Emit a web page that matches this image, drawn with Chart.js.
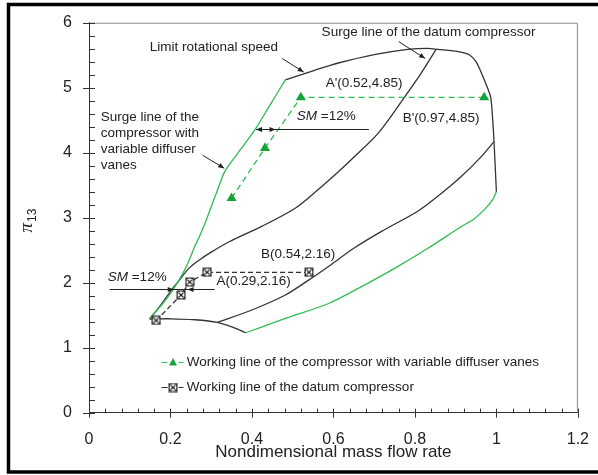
<!DOCTYPE html>
<html>
<head>
<meta charset="utf-8">
<script src="https://cdn.jsdelivr.net/npm/chart.js@4.4.1/dist/chart.umd.min.js"></script>
<style>
  html, body { margin: 0; padding: 0; background: #fff; }
  #wrap { position: relative; width: 598px; height: 475px; }
</style>
</head>
<body>
<div id="wrap"><canvas id="map"></canvas></div>
<script>
// ---- DATA: x = nondimensional mass flow rate, y = pressure ratio pi13 ----
const xTicks = [0, 0.2, 0.4, 0.6, 0.8, 1, 1.2];
const yTicks = [0, 1, 2, 3, 4, 5, 6];

// surge line with variable diffuser vanes (green, left boundary)
const surgeVdvX = [0.149, 0.18, 0.206, 0.23, 0.246, 0.259, 0.271, 0.287, 0.303, 0.318, 0.334, 0.372, 0.409, 0.445, 0.482];
const surgeVdvY = [1.45, 1.67, 1.89, 2.14, 2.35, 2.55, 2.71, 2.95, 3.22, 3.47, 3.72, 4.05, 4.37, 4.74, 5.12];

// limit rotational speed line and right boundary (black)
const limitX = [0.482, 0.55, 0.612, 0.70, 0.783, 0.83, 0.856, 0.91, 0.935, 0.95, 0.965, 0.978, 0.986, 0.991, 0.994, 0.997, 1.0];
const limitY = [5.12, 5.26, 5.38, 5.51, 5.59, 5.605, 5.59, 5.55, 5.50, 5.40, 5.20, 5.00, 4.85, 4.50, 4.19, 3.80, 3.40];

// lowest speed line (green)
const lowSpeedX = [0.385, 0.482, 0.588, 0.669, 0.75, 0.832, 0.913, 0.945, 0.97, 0.99, 1.0];
const lowSpeedY = [1.23, 1.45, 1.68, 1.94, 2.22, 2.53, 2.86, 2.98, 3.12, 3.27, 3.40];

// intermediate speed line (black)
const midSpeedX = [0.315, 0.40, 0.482, 0.539, 0.588, 0.65, 0.718, 0.807, 0.86, 0.913, 0.96, 0.994];
const midSpeedY = [1.39, 1.58, 1.81, 2.04, 2.25, 2.53, 2.79, 3.10, 3.35, 3.63, 3.92, 4.17];

// bottom line from surge point to low speed line (black)
const bottomX = [0.149, 0.20, 0.26, 0.315, 0.355, 0.385];
const bottomY = [1.44, 1.445, 1.43, 1.39, 1.31, 1.23];

// surge line of the datum compressor (black)
const surgeDatumX = [0.149, 0.18, 0.205, 0.222, 0.245, 0.271, 0.30, 0.344, 0.425, 0.507, 0.56, 0.604, 0.65, 0.71, 0.775, 0.815, 0.852];
const surgeDatumY = [1.44, 1.69, 1.91, 2.04, 2.22, 2.35, 2.47, 2.63, 2.87, 3.15, 3.42, 3.66, 3.93, 4.30, 4.86, 5.22, 5.59];

// working lines
const workVdvX = [0.35, 0.432, 0.52, 0.97];
const workVdvY = [3.30, 4.07, 4.85, 4.85];
const workDatumX = [0.165, 0.226, 0.247, 0.29, 0.54];
const workDatumY = [1.42, 1.81, 2.01, 2.16, 2.16];

const GREEN = '#2fbd50';
const GREEN_MK = '#16a43a';
const DARK = '#333333';
const FONT = "'Liberation Sans', Arial, sans-serif";

const pts = (xs, ys) => xs.map((x, i) => ({ x, y: ys[i] }));

// boxed circle-cross marker of the datum working line
function makeCrossMarker() {
  const c = document.createElement('canvas');
  c.width = 10; c.height = 10;
  const g = c.getContext('2d');
  g.fillStyle = '#2b2b2b';
  g.fillRect(0.5, 0.5, 9, 9);
  g.fillStyle = '#fff';
  g.beginPath(); g.arc(5, 5, 3.4, 0, Math.PI * 2); g.fill();
  g.strokeStyle = '#111'; g.lineWidth = 1.2;
  g.beginPath();
  g.moveTo(2.8, 2.8); g.lineTo(7.2, 7.2);
  g.moveTo(7.2, 2.8); g.lineTo(2.8, 7.2);
  g.stroke();
  return c;
}
const crossMarker = makeCrossMarker();

function curve(xs, ys, color) {
  return {
    data: pts(xs, ys), showLine: true, borderColor: color, borderWidth: 1.3,
    pointRadius: 0, tension: 0.3, fill: false, order: 5,
  };
}

// ---- DRAW HELPERS ----
function arrowHead(ctx, x1, y1, x2, y2, len, half) {
  const a = Math.atan2(y2 - y1, x2 - x1);
  ctx.beginPath();
  ctx.moveTo(x2, y2);
  ctx.lineTo(x2 - len * Math.cos(a) + half * Math.sin(a), y2 - len * Math.sin(a) - half * Math.cos(a));
  ctx.lineTo(x2 - len * Math.cos(a) - half * Math.sin(a), y2 - len * Math.sin(a) + half * Math.cos(a));
  ctx.closePath();
  ctx.fill();
}

function arrow(ctx, x1, y1, x2, y2) {
  ctx.beginPath(); ctx.moveTo(x1, y1); ctx.lineTo(x2, y2); ctx.stroke();
  arrowHead(ctx, x1, y1, x2, y2, 6, 2.5);
}

const mapDecor = {
  id: 'mapDecor',
  beforeDatasetsDraw(chart) {
    const { ctx, chartArea: a, scales: { x, y } } = chart;
    ctx.save();
    // plot frame (top and right)
    ctx.strokeStyle = '#8a8a8a'; ctx.lineWidth = 1;
    ctx.beginPath();
    ctx.moveTo(a.left, a.top + 0.5); ctx.lineTo(a.right - 0.5, a.top + 0.5); ctx.lineTo(a.right - 0.5, a.bottom);
    ctx.stroke();
    // tick marks: major crossing the axis, minor inside
    ctx.strokeStyle = DARK;
    ctx.beginPath();
    for (let i = 0; i <= 30; i++) {
      const py = Math.round(y.getPixelForValue(i * 0.2)) + 0.5;
      const major = i % 5 === 0;
      ctx.moveTo(a.left - (major ? 6 : 0), py); ctx.lineTo(a.left + 6, py);
    }
    for (let i = 0; i <= 30; i++) {
      const px = Math.round(x.getPixelForValue(i * 0.04)) + 0.5;
      const major = i % 5 === 0;
      ctx.moveTo(px, a.bottom - 4); ctx.lineTo(px, a.bottom + (major ? 5 : 0));
    }
    ctx.stroke();
    ctx.restore();
  },
  afterDatasetsDraw(chart) {
    const { ctx, scales: { x, y } } = chart;
    const X = v => x.getPixelForValue(v), Y = v => y.getPixelForValue(v);
    ctx.save();
    ctx.fillStyle = '#222'; ctx.strokeStyle = '#222'; ctx.lineWidth = 1;
    ctx.font = `13.5px ${FONT}`;
    ctx.textBaseline = 'middle'; ctx.textAlign = 'left';

    ctx.fillText('Limit rotational speed', X(0.149), Y(5.62));
    ctx.fillText('Surge line of the datum compressor', X(0.571), Y(5.86));
    ctx.fillText("A'(0.52,4.85)", X(0.581), Y(5.07));
    ctx.fillText("B'(0.97,4.85)", X(0.77), Y(4.53));
    ['Surge line of the', 'compressor with', 'variable diffuser', 'vanes']
      .forEach((t, i) => ctx.fillText(t, X(0.029), Y(4.55) + i * 16.2));
    ctx.fillText('B(0.54,2.16)', X(0.422), Y(2.44));
    ctx.fillText('A(0.29,2.16)', X(0.313), Y(2.02));

    // SM = 12% labels with italic SM
    const sm = (xv, yv) => {
      ctx.font = `italic 13.5px ${FONT}`;
      ctx.fillText('SM', X(xv), Y(yv));
      const w = ctx.measureText('SM').width;
      ctx.font = `13.5px ${FONT}`;
      ctx.fillText(' =12%', X(xv) + w, Y(yv));
    };
    sm(0.51, 4.56);
    sm(0.046, 2.09);

    // pointer arrows
    arrow(ctx, X(0.474), Y(5.45), X(0.527), Y(5.24));
    arrow(ctx, X(0.76), Y(5.71), X(0.825), Y(5.45));
    arrow(ctx, X(0.279), Y(3.96), X(0.332), Y(3.76));

    // surge margin dimension, upper
    const yu = Math.round(Y(4.37)) + 0.5;
    ctx.beginPath(); ctx.moveTo(X(0.41), yu); ctx.lineTo(X(0.687), yu); ctx.stroke();
    arrowHead(ctx, X(0.44), yu, X(0.41), yu, 6, 2.5);
    arrowHead(ctx, X(0.43), yu, X(0.458), yu, 6, 2.5);
    // surge margin dimension, lower
    const yl = Math.round(Y(1.90)) + 0.5;
    ctx.beginPath(); ctx.moveTo(X(0.051), yl); ctx.lineTo(X(0.308), yl); ctx.stroke();
    arrowHead(ctx, X(0.17), yl, X(0.208), yl, 6, 2.5);
    arrowHead(ctx, X(0.28), yl, X(0.242), yl, 6, 2.5);

    // legend
    const legend = [
      { text: 'Working line of the compressor with variable diffuser vanes', color: GREEN, y: 0.785, mark: 'tri' },
      { text: 'Working line of the datum compressor', color: DARK, y: 0.40, mark: 'box' },
    ];
    legend.forEach(r => {
      const ly = Math.round(Y(r.y)) + 0.5;
      const x0 = X(0.178);
      ctx.strokeStyle = r.color; ctx.lineWidth = 1.2;
      ctx.beginPath();
      ctx.moveTo(x0, ly); ctx.lineTo(x0 + 6, ly);
      ctx.moveTo(x0 + 17, ly); ctx.lineTo(x0 + 22, ly);
      ctx.stroke();
      if (r.mark === 'tri') {
        ctx.fillStyle = GREEN_MK;
        ctx.beginPath();
        ctx.moveTo(x0 + 11.5, ly - 4.5); ctx.lineTo(x0 + 15.5, ly + 3); ctx.lineTo(x0 + 7.5, ly + 3);
        ctx.closePath(); ctx.fill();
      } else {
        ctx.drawImage(crossMarker, x0 + 6.5, ly - 5);
      }
      ctx.fillStyle = '#222';
      ctx.font = `13.5px ${FONT}`;
      ctx.fillText(r.text, X(0.24), ly);
    });

    // y axis title: pi with subscript 13
    ctx.translate(27, 221);
    ctx.rotate(-Math.PI / 2);
    ctx.font = "italic 19px 'Liberation Serif', 'Times New Roman', serif";
    const wp = ctx.measureText('\u03c0').width;
    ctx.font = `12px ${FONT}`;
    const ws = ctx.measureText('13').width;
    const sx = -(wp + ws) / 2;
    ctx.font = "italic 19px 'Liberation Serif', 'Times New Roman', serif";
    ctx.textBaseline = 'alphabetic';
    ctx.fillText('\u03c0', sx, 5);
    ctx.font = `12px ${FONT}`;
    ctx.fillText('13', sx + wp + 1, 9);
    ctx.restore();
  },
  afterDraw(chart) {
    // outer figure border
    const { ctx } = chart;
    ctx.save();
    ctx.strokeStyle = '#000';
    ctx.lineWidth = 3.5;
    ctx.beginPath();
    ctx.moveTo(598, 4.5); ctx.lineTo(8.5, 4.5); ctx.lineTo(8.5, 472); ctx.lineTo(598, 472);
    ctx.stroke();
    ctx.restore();
  }
};

new Chart(document.getElementById('map'), {
  type: 'scatter',
  data: {
    datasets: [
      {
        label: 'Working line of the compressor with variable diffuser vanes',
        data: pts(workVdvX, workVdvY), showLine: true, borderColor: GREEN, borderWidth: 1.3,
        borderDash: [6, 4], pointStyle: 'triangle', pointRadius: 4.5,
        pointBackgroundColor: GREEN_MK, pointBorderColor: GREEN_MK, tension: 0, order: 1,
      },
      {
        label: 'Working line of the datum compressor',
        data: pts(workDatumX, workDatumY), showLine: true, borderColor: DARK, borderWidth: 1.3,
        borderDash: [5, 3], pointStyle: crossMarker, tension: 0, order: 1,
      },
      curve(surgeVdvX, surgeVdvY, GREEN),
      curve(limitX, limitY, DARK),
      curve(lowSpeedX, lowSpeedY, GREEN),
      curve(midSpeedX, midSpeedY, DARK),
      curve(bottomX, bottomY, DARK),
      curve(surgeDatumX, surgeDatumY, DARK),
    ]
  },
  options: {
    responsive: true,
    maintainAspectRatio: false,
    animation: false,
    layout: { padding: { top: 22.7, right: 18, bottom: 0, left: 0 } },
    plugins: { legend: { display: false }, tooltip: { enabled: false } },
    scales: {
      x: {
        type: 'linear', min: xTicks[0], max: xTicks[xTicks.length - 1],
        afterBuildTicks: s => { s.ticks = xTicks.map(v => ({ value: v })); },
        afterFit: s => { s.height = 62.3; },
        grid: { display: false },
        border: { display: true, color: DARK, width: 1 },
        ticks: { color: '#222', font: { size: 16, family: FONT }, padding: 9, maxRotation: 0,
                 callback: v => String(Math.round(v * 10) / 10) },
        title: { display: true, text: 'Nondimensional mass flow rate', color: '#222',
                 font: { size: 17, family: FONT }, padding: { top: 12, bottom: 12 } },
      },
      y: {
        type: 'linear', min: yTicks[0], max: yTicks[yTicks.length - 1],
        afterBuildTicks: s => { s.ticks = yTicks.map(v => ({ value: v })); },
        afterFit: s => { s.width = 89; },
        grid: { display: false },
        border: { display: true, color: DARK, width: 1 },
        ticks: { color: '#222', font: { size: 16, family: FONT }, padding: 9,
                 callback: v => String(v) },
      }
    }
  },
  plugins: [mapDecor]
});
</script>
</body>
</html>
